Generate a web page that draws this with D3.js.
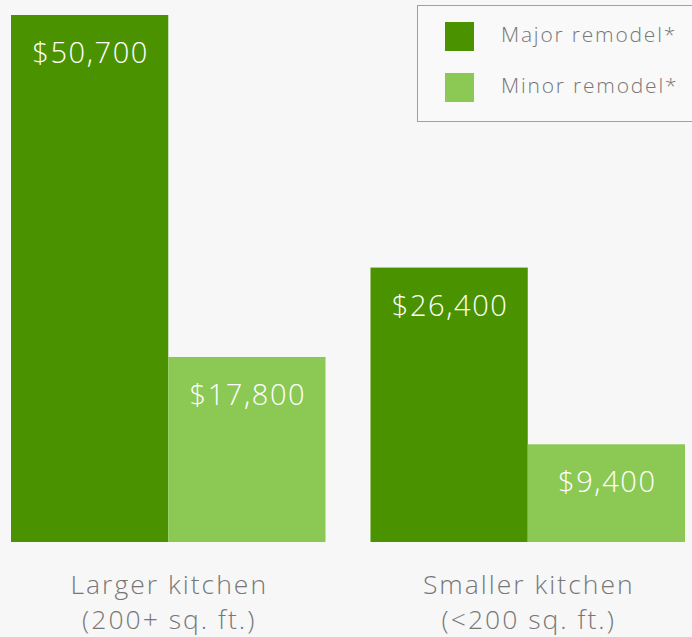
<!DOCTYPE html>
<html>
<head>
<meta charset="utf-8">
<script src="https://cdn.jsdelivr.net/npm/d3@7"></script>
<style>
  html, body { margin: 0; padding: 0; background: #f7f7f7; }
  svg { display: block; font-family: "Open Sans", Lato, sans-serif; }
</style>
</head>
<body>
<div id="chart"></div>
<script>
const categories = ['Larger kitchen', 'Smaller kitchen']
const subLabels = ['(200+ sq. ft.)', '(<200 sq. ft.)']
const seriesNames = ['Major remodel*', 'Minor remodel*']
const major = [50700, 26400]
const minor = [17800, 9400]

const colors = ['#4b9200', '#8bc954']
const width = 692
const height = 637
const baseline = 542

const svg = d3.select('#chart')
  .append('svg')
  .attr('width', width)
  .attr('height', height)

svg.append('rect').attr('width', width).attr('height', height).attr('fill', '#f7f7f7')

// left group 11..325, right 370..685
const x0 = d3.scaleBand()
  .domain(categories)
  .range([11, 685])
  .paddingInner(45 / 359.5)
  .paddingOuter(0)

const x1 = d3.scaleBand()
  .domain(seriesNames)
  .range([0, x0.bandwidth()])

const y = d3.scaleLinear()
  .domain([0, 50700])
  .range([baseline, 15])

const rows = categories.map((c, i) => ({ cat: c, values: [major[i], minor[i]] }))

const groups = svg.selectAll('g.group')
  .data(rows)
  .enter()
  .append('g')
  .attr('class', 'group')
  .attr('transform', d => `translate(${x0(d.cat)},0)`)

const bars = groups.selectAll('g.bar')
  .data(d => d.values.map((v, j) => ({ name: seriesNames[j], value: v, j })))
  .enter()
  .append('g')
  .attr('class', 'bar')

bars.append('rect')
  .attr('x', d => x1(d.name))
  .attr('y', d => y(d.value))
  .attr('width', x1.bandwidth())
  .attr('height', d => baseline - y(d.value))
  .attr('fill', d => colors[d.j])

bars.append('text')
  .attr('x', d => x1(d.name) + x1.bandwidth() / 2 + 1)
  .attr('y', d => y(d.value) + 48)
  .attr('text-anchor', 'middle')
  .attr('fill', '#ffffff')
  .attr('font-size', 29)
  .attr('font-weight', 300)
  .attr('letter-spacing', 1.6)
  .text(d => '$' + d3.format(',')(d.value))

// category labels
const labelLines = [d => d.cat, (d, i) => subLabels[i]]
labelLines.forEach((fn, k) => {
  groups.append('text')
    .attr('x', x0.bandwidth() / 2 + 1)
    .attr('y', 594 + k * 35)
    .attr('text-anchor', 'middle')
    .attr('fill', '#777777')
    .attr('font-size', 26.5)
    .attr('font-weight', 300)
    .attr('letter-spacing', 2)
    .text(fn)
})

// legend
const legend = svg.append('g').attr('transform', 'translate(417.5,5.5)')
legend.append('rect')
  .attr('width', 290)
  .attr('height', 116)
  .attr('fill', '#f9f9f9')
  .attr('stroke', '#a0a0a0')
  .attr('stroke-width', 1)

const items = legend.selectAll('g.item')
  .data(seriesNames)
  .enter()
  .append('g')
  .attr('class', 'item')
  .attr('transform', (d, i) => `translate(27.5,${16.5 + i * 51})`)

items.append('rect')
  .attr('width', 29)
  .attr('height', 29)
  .attr('fill', (d, i) => colors[i])

items.append('text')
  .attr('x', 56)
  .attr('y', 20)
  .attr('fill', '#777777')
  .attr('font-size', 21)
  .attr('font-weight', 300)
  .attr('letter-spacing', 1.8)
  .text(d => d)
</script>
</body>
</html>
